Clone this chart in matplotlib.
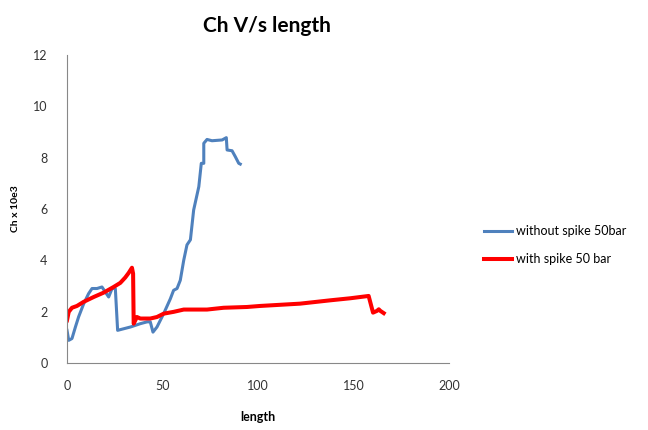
import matplotlib.pyplot as plt
import numpy as np

plt.rcParams['font.family'] = ['Lato', 'DejaVu Sans']

# without spike 50bar
blue_x = [0, 0.9, 2.6, 4.4, 6.1, 8.7, 11.3, 13.1, 15.7, 18.3, 20, 21.8, 23.6, 25.3,
          26.5, 33.2, 38.4, 41.9, 43.6, 45, 47.1, 50.6, 54.1, 55.8, 57.6, 59.3, 61.1,
          62.8, 64.6, 66.3, 69, 70.3, 71.6, 71.6, 73.3, 75.9, 81.2, 83.4, 83.8, 86.4,
          88.1, 89.9, 90.7]
blue_y = [1.27, 0.88, 0.95, 1.4, 1.8, 2.3, 2.7, 2.9, 2.9, 2.96, 2.77, 2.57, 2.9, 2.9,
          1.27, 1.4, 1.53, 1.6, 1.6, 1.2, 1.4, 1.92, 2.5, 2.83, 2.9, 3.22, 4.0,
          4.6, 4.8, 5.96, 6.87, 7.78, 7.78, 8.56, 8.71, 8.66, 8.69, 8.78, 8.3, 8.27,
          8.04, 7.78, 7.75]

# with spike 50 bar
red_x = [0, 0.9, 2.6, 5.2, 8.7, 14, 19.2, 24.4, 27.9, 30.5, 32.3, 34, 34.6, 34.9,
         36.6, 38.4, 43.6, 47.1, 50.6, 55.8, 61.1, 73.3, 82, 94.2, 101, 122, 137.8,
         148.3, 157.9, 160.2, 162.3, 163.2, 164, 165.8]
red_y = [1.66, 1.99, 2.15, 2.22, 2.38, 2.57, 2.74, 2.96, 3.12, 3.33, 3.51, 3.71, 3.48, 1.53,
         1.79, 1.73, 1.73, 1.79, 1.92, 1.99, 2.08, 2.08, 2.15, 2.18, 2.22, 2.31, 2.44,
         2.52, 2.61, 1.96, 2.03, 2.09, 2.03, 1.94]

fig = plt.figure(figsize=(6.48, 4.30), dpi=100)
ax = fig.add_axes([0.1034, 0.156, 0.5896, 0.716])
ax.plot(blue_x, blue_y, color='#4f81bd', lw=2.2, label='without spike 50bar')
ax.plot(red_x, red_y, color='#ff0000', lw=2.9, label='with spike 50 bar')

ax.set_xlim(0, 200)
ax.set_ylim(0, 12)
ax.set_xticks(np.arange(0, 201, 50))
ax.set_yticks(np.arange(0, 13, 2))
ax.tick_params(length=0, labelsize=9, colors='#333333', pad=12)
ax.tick_params(axis='y', pad=14)
for s in ['top', 'right']:
    ax.spines[s].set_visible(False)
for s in ['left', 'bottom']:
    ax.spines[s].set_color('#888888')
    ax.spines[s].set_linewidth(0.8)

fig.text(0.412, 0.94, 'Ch V/s length', ha='center', va='center', fontsize=15, fontweight='bold')
ax.set_xlabel('length', fontsize=9, fontweight='bold')
ax.xaxis.set_label_coords(0.5, -0.155)
ax.set_ylabel('Ch x 10e3', fontsize=7.5, fontweight='bold')
ax.yaxis.set_label_coords(-0.122, 0.5)

leg = fig.legend(loc='center left', bbox_to_anchor=(0.73, 0.43), frameon=False,
                 fontsize=9, handlelength=2.2, labelspacing=1.3, handletextpad=0.3)

fig.savefig('out.png', dpi=100)
